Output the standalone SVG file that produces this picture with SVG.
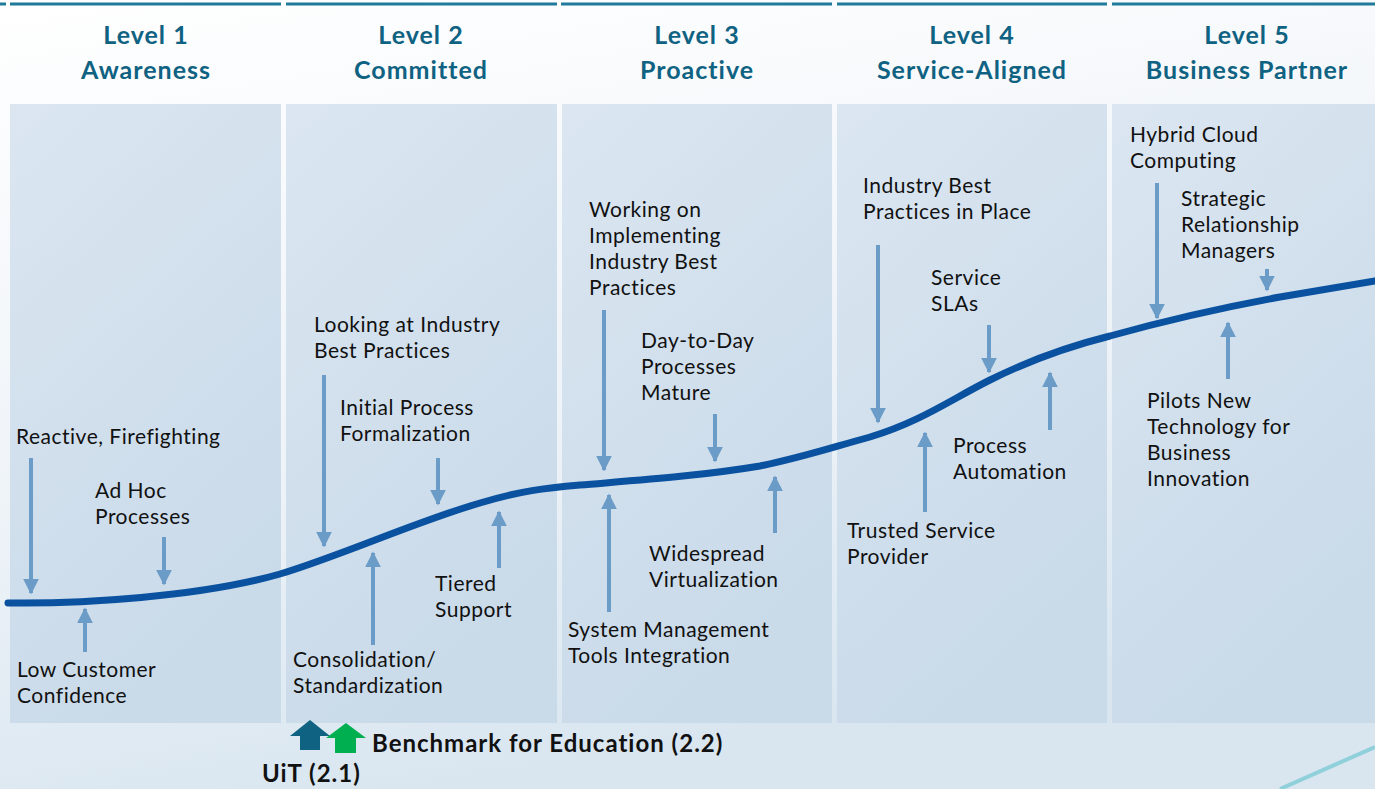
<svg xmlns="http://www.w3.org/2000/svg" width="1375" height="789" viewBox="0 0 1375 789">
  <defs>
    <linearGradient id="bg" x1="0" y1="0" x2="0.3" y2="1">
      <stop offset="0" stop-color="#ffffff"/>
      <stop offset="0.6" stop-color="#eef3f8"/>
      <stop offset="1" stop-color="#d9e6f0"/>
    </linearGradient>
    <linearGradient id="panel" x1="0" y1="0" x2="0.4" y2="1">
      <stop offset="0" stop-color="#dbe6f1"/>
      <stop offset="1" stop-color="#c9dae9"/>
    </linearGradient>
    <marker id="ah" viewBox="0 0 10 10" refX="9" refY="5" markerWidth="4" markerHeight="4" markerUnits="strokeWidth" orient="auto">
      <path d="M0,0 L10,5 L0,10 z" fill="#6b9bc7"/>
    </marker>
    <style>
      .panel { fill: url(#panel); }
      .topline { stroke: #1f7a9c; stroke-width: 3; }
      .hdr { font-family: Lato, "Open Sans", sans-serif; font-weight: bold; font-size: 25px; letter-spacing: 1px; fill: #0f6282; text-anchor: middle; }
      .lbl { font-family: Lato, "Open Sans", sans-serif; font-size: 21px; letter-spacing: 0.5px; fill: #111111; }
      .arr { stroke: #6b9bc7; stroke-width: 4; fill: none; marker-end: url(#ah); }
      .curve { stroke: #0a52a0; stroke-width: 7; fill: none; stroke-linecap: round; }
      .bm { font-family: Lato, "Open Sans", sans-serif; font-weight: bold; font-size: 24px; letter-spacing: 1px; fill: #111111; }
    </style>
  </defs>

  <rect x="0" y="0" width="1375" height="789" fill="url(#bg)"/>
  <line x1="1280" y1="789" x2="1375" y2="747" stroke="#8fd0da" stroke-width="4"/>

  <g id="toplines">
    <line class="topline" x1="0" y1="4" x2="6" y2="4"/>
    <line class="topline" x1="10" y1="4" x2="281" y2="4"/>
    <line class="topline" x1="286" y1="4" x2="557" y2="4"/>
    <line class="topline" x1="561" y1="4" x2="832" y2="4"/>
    <line class="topline" x1="837" y1="4" x2="1107" y2="4"/>
    <line class="topline" x1="1112" y1="4" x2="1375" y2="4"/>
  </g>

  <g id="level1">
    <rect class="panel" x="10" y="104" width="271" height="619"/>
    <text class="hdr" x="146" y="44">Level 1</text>
    <text class="hdr" x="146" y="79">Awareness</text>
  </g>
  <g id="level2">
    <rect class="panel" x="286" y="104" width="271" height="619"/>
    <text class="hdr" x="421" y="44">Level 2</text>
    <text class="hdr" x="421" y="79">Committed</text>
  </g>
  <g id="level3">
    <rect class="panel" x="562" y="104" width="270" height="619"/>
    <text class="hdr" x="697" y="44">Level 3</text>
    <text class="hdr" x="697" y="79">Proactive</text>
  </g>
  <g id="level4">
    <rect class="panel" x="837" y="104" width="270" height="619"/>
    <text class="hdr" x="972" y="44">Level 4</text>
    <text class="hdr" x="972" y="79">Service-Aligned</text>
  </g>
  <g id="level5">
    <rect class="panel" x="1112" y="104" width="263" height="619"/>
    <text class="hdr" x="1247" y="44">Level 5</text>
    <text class="hdr" x="1247" y="79">Business Partner</text>
  </g>

  <g id="connectors">
    <path class="curve" d="M8,603 C80,604 200,597 280,574 C340,556 420,520 480,503 C520,491 545,488 580,485 C640,480 700,476 760,466 C800,458 830,448 870,437 C920,422 950,400 990,380 C1030,360 1070,346 1110,336 C1160,322 1220,308 1280,297 C1320,290 1350,285 1375,281"/>
    <line class="arr" x1="31" y1="458" x2="31" y2="593"/>
    <line class="arr" x1="164" y1="537" x2="164" y2="584"/>
    <line class="arr" x1="85" y1="652" x2="85" y2="609"/>
    <line class="arr" x1="324" y1="375" x2="324" y2="546"/>
    <line class="arr" x1="438" y1="458" x2="438" y2="504"/>
    <line class="arr" x1="499" y1="568" x2="499" y2="512"/>
    <line class="arr" x1="373" y1="645" x2="373" y2="553"/>
    <line class="arr" x1="604" y1="310" x2="604" y2="470"/>
    <line class="arr" x1="715" y1="414" x2="715" y2="461"/>
    <line class="arr" x1="775" y1="533" x2="775" y2="477"/>
    <line class="arr" x1="609" y1="612" x2="609" y2="495"/>
    <line class="arr" x1="878" y1="245" x2="878" y2="422"/>
    <line class="arr" x1="989" y1="325" x2="989" y2="372"/>
    <line class="arr" x1="1050" y1="430" x2="1050" y2="373"/>
    <line class="arr" x1="925" y1="512" x2="925" y2="433"/>
    <line class="arr" x1="1157" y1="183" x2="1157" y2="318"/>
    <line class="arr" x1="1267" y1="269" x2="1267" y2="290"/>
    <line class="arr" x1="1228" y1="379" x2="1228" y2="323"/>
  </g>

  <g id="labels1">
    <text class="lbl" x="16" y="444">Reactive, Firefighting</text>
    <text class="lbl" x="95" y="498">Ad Hoc</text>
    <text class="lbl" x="95" y="524">Processes</text>
    <text class="lbl" x="17" y="677">Low Customer</text>
    <text class="lbl" x="17" y="703">Confidence</text>
  </g>
  <g id="labels2">
    <text class="lbl" x="314" y="332">Looking at Industry</text>
    <text class="lbl" x="314" y="358">Best Practices</text>
    <text class="lbl" x="340" y="415">Initial Process</text>
    <text class="lbl" x="340" y="441">Formalization</text>
    <text class="lbl" x="435" y="591">Tiered</text>
    <text class="lbl" x="435" y="617">Support</text>
    <text class="lbl" x="293" y="667">Consolidation/</text>
    <text class="lbl" x="293" y="693">Standardization</text>
  </g>
  <g id="labels3">
    <text class="lbl" x="589" y="217">Working on</text>
    <text class="lbl" x="589" y="243">Implementing</text>
    <text class="lbl" x="589" y="269">Industry Best</text>
    <text class="lbl" x="589" y="295">Practices</text>
    <text class="lbl" x="641" y="348">Day-to-Day</text>
    <text class="lbl" x="641" y="374">Processes</text>
    <text class="lbl" x="641" y="400">Mature</text>
    <text class="lbl" x="649" y="561">Widespread</text>
    <text class="lbl" x="649" y="587">Virtualization</text>
    <text class="lbl" x="568" y="637">System Management</text>
    <text class="lbl" x="568" y="663">Tools Integration</text>
  </g>
  <g id="labels4">
    <text class="lbl" x="863" y="193">Industry Best</text>
    <text class="lbl" x="863" y="219">Practices in Place</text>
    <text class="lbl" x="931" y="285">Service</text>
    <text class="lbl" x="931" y="311">SLAs</text>
    <text class="lbl" x="953" y="453">Process</text>
    <text class="lbl" x="953" y="479">Automation</text>
    <text class="lbl" x="847" y="538">Trusted Service</text>
    <text class="lbl" x="847" y="564">Provider</text>
  </g>
  <g id="labels5">
    <text class="lbl" x="1130" y="142">Hybrid Cloud</text>
    <text class="lbl" x="1130" y="168">Computing</text>
    <text class="lbl" x="1181" y="206">Strategic</text>
    <text class="lbl" x="1181" y="232">Relationship</text>
    <text class="lbl" x="1181" y="258">Managers</text>
    <text class="lbl" x="1147" y="408">Pilots New</text>
    <text class="lbl" x="1147" y="434">Technology for</text>
    <text class="lbl" x="1147" y="460">Business</text>
    <text class="lbl" x="1147" y="486">Innovation</text>
  </g>

  <g id="benchmarks">
    <path d="M300,750 L300,736 L290,736 L310,720 L330,736 L320,736 L320,750 z" fill="#0f6282"/>
    <path d="M335,753 L335,738 L326,738 L346,723 L366,738 L356,738 L356,753 z" fill="#00b050"/>
    <text class="bm" x="372" y="752">Benchmark for Education (2.2)</text>
    <text class="bm" x="262" y="782">UiT (2.1)</text>
  </g>
</svg>
